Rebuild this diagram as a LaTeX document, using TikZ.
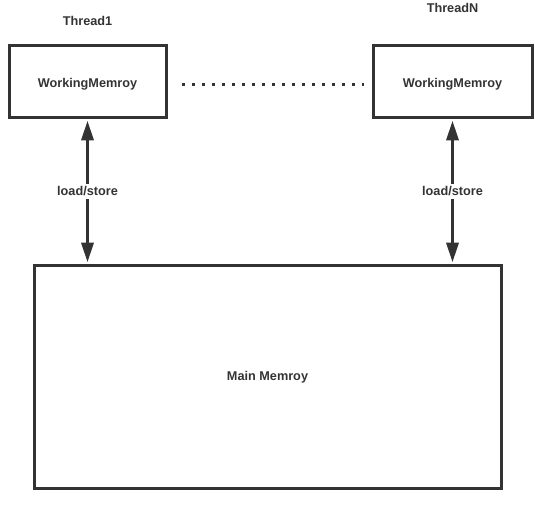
\documentclass[tikz,border=0pt]{standalone}
\usepackage{fontspec}
\setmainfont{Liberation Sans}
\usetikzlibrary{arrows.meta}
\definecolor{ink}{HTML}{333333}
\tikzset{
  membox/.style={draw=ink,line width=3pt,inner sep=0pt},
  lbl/.style={text=ink,font=\bfseries\fontsize{12.7}{15}\selectfont},
  rw/.style={draw=ink,line width=3.5pt,{Triangle[width=12pt,length=20pt]}-{Triangle[width=12pt,length=20pt]},shorten <=1pt,shorten >=1pt}
}
\begin{document}
\begin{tikzpicture}[x=1pt,y=-1pt]
\useasboundingbox (0,0) rectangle (535,505);
\node[membox,minimum width=157pt,minimum height=72pt] (wm1) at (87.5,82) {};
\node[membox,minimum width=159pt,minimum height=72pt] (wmn) at (452.5,82) {};
\node[membox,minimum width=467pt,minimum height=223pt] (main) at (267.5,376.5) {};
\node[lbl] (t1) at (87.5,21) {Thread1};
\node[lbl] (tn) at (452.5,8) {ThreadN};
\node[lbl] (wm1txt) at (87.5,84) {WorkingMemroy};
\node[lbl] (wmntxt) at (452.5,84) {WorkingMemroy};
\node[lbl] (maintxt) at (267.5,377) {Main Memroy};
% dotted link between the two working memories
\draw[ink,line width=3pt,dash pattern=on 3pt off 7pt] (182,85) -- (364,85);
% load/store arrows
\draw[rw] (wm1.south) -- (wm1.south |- main.north) node[midway,fill=white,inner sep=3pt,lbl] (ls1) {load/store};
\draw[rw] (wmn.south) -- (wmn.south |- main.north) node[midway,fill=white,inner sep=3pt,lbl] (lsn) {load/store};
\end{tikzpicture}
\end{document}
